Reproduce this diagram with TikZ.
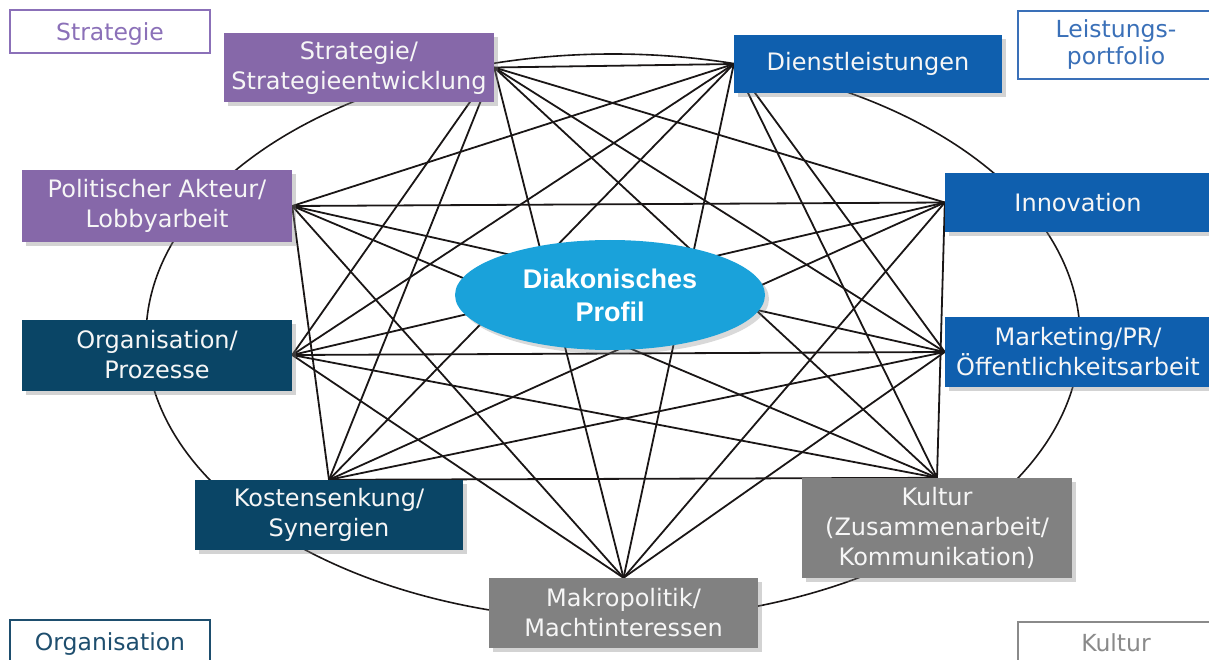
\documentclass[tikz,border=0pt]{standalone}
\usepackage{fontspec}
\setmainfont{DejaVu Sans}
\newfontfamily\arialfont{Liberation Sans}
\usetikzlibrary{shapes.geometric,shadows,backgrounds}
\definecolor{cpurple}{HTML}{8668A9}
\definecolor{cblue}{HTML}{0F5FAE}
\definecolor{cdark}{HTML}{0A4566}
\definecolor{cgray}{HTML}{818181}
\definecolor{ccyan}{HTML}{1AA2DA}
\definecolor{lpurple}{HTML}{8B70B8}
\definecolor{lblue}{HTML}{3A70B8}
\definecolor{ldark}{HTML}{1E4E6E}
\definecolor{lgray}{HTML}{8A8A8A}
\definecolor{ctext}{HTML}{F6F6F6}
\definecolor{cline}{HTML}{1A1616}
\tikzset{
  box/.style={rectangle, inner sep=0pt, align=center, text=ctext,
    font=\fontsize{24}{30}\selectfont,
    drop shadow={shadow xshift=4pt, shadow yshift=-4pt, opacity=0.35}},
  tag/.style={rectangle, draw, line width=2.5pt, fill=white, inner sep=0pt,
    align=center, font=\fontsize{23.5}{27}\selectfont},
  link/.style={draw=cline, line width=1.8pt},
  ring/.style={draw=cline, line width=1.6pt},
  core/.style={ellipse, fill=ccyan, inner sep=0pt, text=white, align=center,
    font=\arialfont\bfseries\fontsize{27}{33}\selectfont,
    drop shadow={shadow xshift=4pt, shadow yshift=-4pt, opacity=0.3}}
}
\begin{document}
\begin{tikzpicture}[x=1pt,y=-1pt]
\useasboundingbox (0,0) rectangle (1209,660);
% corner tags
\node[tag, draw=lpurple, text=lpurple, text depth=0pt, minimum width=200pt, minimum height=43pt] (tS) at (110,31.5) {Strategie};
\node[tag, draw=lblue, text=lblue, minimum width=196pt, minimum height=68pt] (tL) at (1116,45) {Leistungs-\\portfolio};
\node[tag, draw=ldark, text=ldark, text depth=0pt, minimum width=200pt, minimum height=43pt] (tO) at (110,641.5) {Organisation};
\node[tag, draw=lgray, text=lgray, text depth=0pt, minimum width=196pt, minimum height=41pt] (tK) at (1116,642.5) {Kultur};
% boxes
\node[box, fill=cpurple, minimum width=270pt, minimum height=69pt] (S) at (359,67.5) {Strategie/\\Strategieentwicklung};
\node[box, fill=cblue, minimum width=268pt, minimum height=58pt] (D) at (868,64) {Dienstleistungen};
\node[box, fill=cpurple, minimum width=270pt, minimum height=72pt] (P) at (157,206) {Politischer Akteur/\\Lobbyarbeit};
\node[box, fill=cblue, minimum width=266pt, minimum height=59pt] (I) at (1078,202.5) {Innovation};
\node[box, fill=cdark, minimum width=270pt, minimum height=71pt] (O) at (157,355) {Organisation/\\Prozesse};
\node[box, fill=cblue, minimum width=266pt, minimum height=70pt] (M) at (1078,352) {Marketing/PR/\\Öffentlichkeitsarbeit};
\node[box, fill=cdark, minimum width=268pt, minimum height=70pt] (K) at (329,515) {Kostensenkung/\\Synergien};
\node[box, fill=cgray, minimum width=270pt, minimum height=100pt] (C) at (937,528) {Kultur\\(Zusammenarbeit/\\Kommunikation)};
\node[box, fill=cgray, minimum width=269pt, minimum height=70pt] (Mk) at (623.5,613) {Makropolitik/\\Machtinteressen};
% centre
\node[core, minimum width=310pt, minimum height=110pt] (DP) at (610,295) {Diakonisches\\Profil};
% hubs
\coordinate (hS) at (S.east);
\coordinate (hD) at (D.west);
\coordinate (hI) at (I.west);
\coordinate (hM) at (M.west);
\coordinate (hC) at (C.north);
\coordinate (hMk) at (Mk.north);
\coordinate (hK) at (K.north);
\coordinate (hO) at (O.east);
\coordinate (hP) at (P.east);
\begin{pgfonlayer}{background}
  \draw[ring] (613,337) ellipse [x radius=467pt, y radius=283pt];
  \foreach \a/\b in {hS/hD,hS/hI,hS/hM,hS/hC,hS/hMk,hS/hK,hS/hO,
                     hD/hM,hD/hC,hD/hMk,hD/hK,hD/hO,hD/hP,
                     hI/hC,hI/hMk,hI/hK,hI/hO,hI/hP,
                     hM/hMk,hM/hK,hM/hO,hM/hP,
                     hC/hK,hC/hO,hC/hP,
                     hMk/hO,hMk/hP,
                     hK/hP}
    \draw[link] (\a) -- (\b);
\end{pgfonlayer}
\end{tikzpicture}
\end{document}
